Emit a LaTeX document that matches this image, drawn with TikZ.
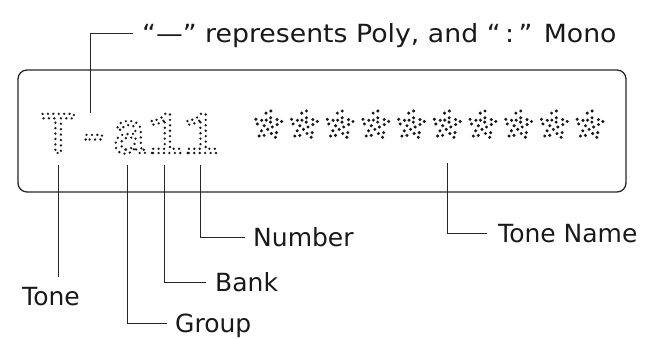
\documentclass[tikz,border=0pt]{standalone}
\usepackage{graphicx}
\usepackage{fontspec}
\setmainfont{DejaVu Sans}
\newfontfamily\lcdfont{Liberation Mono}
\newcommand{\dotson}{\special{pdf:literal direct 1 Tr 2.6 w 1 J 1 j [0 5.4] 0 d}}
\newcommand{\dotsoff}{\special{pdf:literal direct 0 Tr}}
\newcommand{\lcdstar}{\makebox[35.7pt]{\raisebox{-14pt}{\scalebox{1.3}{*}}}}
\begin{document}
\begin{tikzpicture}[x=1pt,y=-1pt,
  lead/.style={draw=black!85, line width=1pt},
  lbl/.style={font=\fontsize{25}{30}\selectfont, inner sep=0pt, anchor=base west, text=black!90},
  lcd/.style={font=\lcdfont\fontsize{59.5}{60}\selectfont, inner sep=0pt, anchor=base west, text=black!90},
  panel/.style={draw=black!85, line width=1.3pt, rounded corners=9pt, minimum width=608pt, minimum height=122pt, inner sep=0pt}]
\useasboundingbox (0,0) rectangle (652,339);
\node[panel] (panel) at (322,131) {};
\node[lcd] (disp) at (40.15,153) {\dotson T-a11\dotsoff};
\node[lcd] (stars) at (250.35,153) {\dotson\lcdstar\lcdstar\lcdstar\lcdstar\lcdstar\lcdstar\lcdstar\lcdstar\lcdstar\lcdstar\dotsoff};
% label nodes
\node[lbl] (poly) at (142,43) {\scalebox{1.07}[1]{“—” represents Poly, and “\,:\,” Mono}};
\node[lbl] (tone) at (22,305) {Tone};
\node[lbl] (group) at (175,332.5) {Group};
\node[lbl] (bank) at (215,291) {Bank};
\node[lbl] (number) at (253,246) {Number};
\node[lbl] (tname) at (498,242) {Tone Name};
% leader start points
\coordinate (cpoly) at (90,113);
\coordinate (ctone) at (58,165);
\coordinate (cgroup) at (127,165);
\coordinate (cbank) at (164,165);
\coordinate (cnum) at (200,165);
\coordinate (cname) at (447,163);
% leaders
\draw[lead] (cpoly) |- ([xshift=-9pt,yshift=9pt]poly.base west);
\draw[lead] (ctone) -- (ctone |- 0,277);
\draw[lead] (cgroup) |- ([xshift=-8pt,yshift=9pt]group.base west);
\draw[lead] (cbank) |- ([xshift=-9pt,yshift=9pt]bank.base west);
\draw[lead] (cnum) |- ([xshift=-8pt,yshift=9pt]number.base west);
\draw[lead] (cname) |- ([xshift=-11pt,yshift=9pt]tname.base west);
\end{tikzpicture}
\end{document}
